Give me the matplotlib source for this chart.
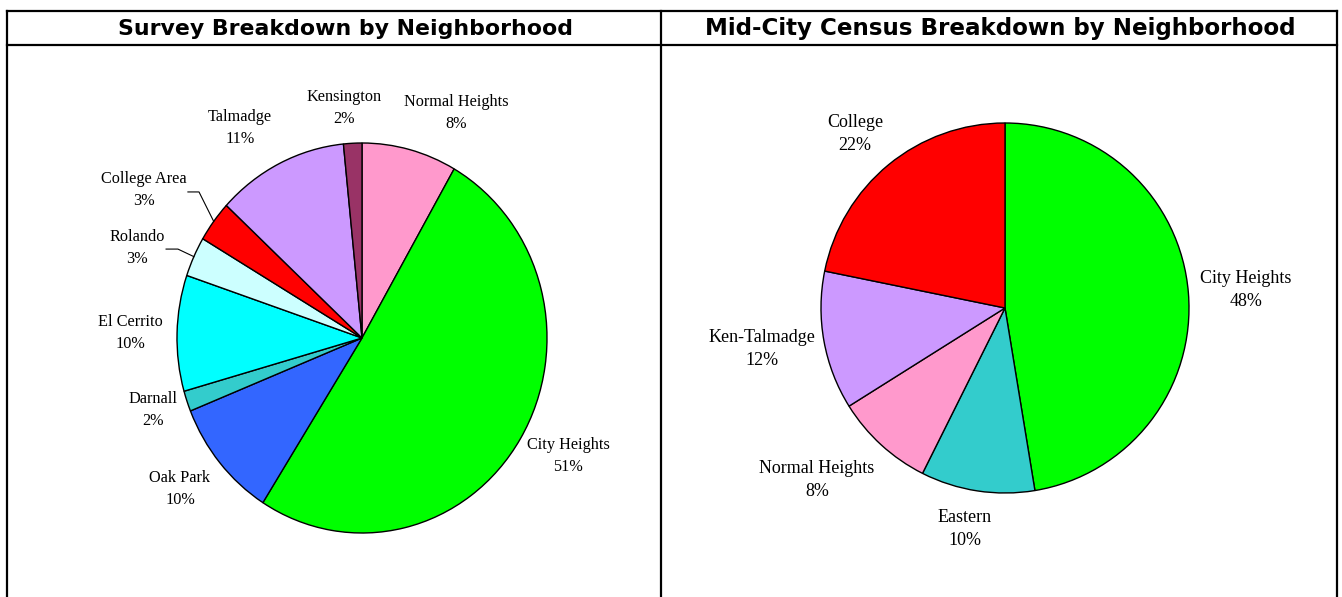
import matplotlib
matplotlib.use("Agg")
import matplotlib.pyplot as plt
from matplotlib.lines import Line2D
import numpy as np

W, H = 1342, 597

# survey pie (clockwise from 12 o'clock)
survey_names = ["Normal Heights", "City Heights", "Oak Park", "Darnall", "El Cerrito",
                "Rolando", "College Area", "Talmadge", "Kensington"]
survey_vals = [8.3, 50.7, 9.9, 1.7, 9.6, 3.3, 3.4, 11.5, 1.6]
survey_pcts = ["8%", "51%", "10%", "2%", "10%", "3%", "3%", "11%", "2%"]
survey_colors = ["#FF99CC", "#00FF00", "#3366FF", "#33CCCC", "#00FFFF",
                 "#CCFFFF", "#FF0000", "#CC99FF", "#993366"]

# census pie
census_names = ["City Heights", "Eastern", "Normal Heights", "Ken-Talmadge", "College"]
census_vals = [47.4, 10.0, 8.7, 12.1, 21.8]
census_pcts = ["48%", "10%", "8%", "12%", "22%"]
census_colors = ["#00FF00", "#33CCCC", "#FF99CC", "#CC99FF", "#FF0000"]

# label spots in pie units
survey_lab_xy = [(0.508, 1.154), (1.114, -0.605), (-0.984, -0.774), (-1.130, -0.369),
                 (-1.254, 0.026), (-1.216, 0.462), (-1.178, 0.759), (-0.659, 1.077),
                 (-0.097, 1.179)]
census_lab_xy = [(1.310, 0.097), (-0.217, -1.195), (-1.022, -0.930),
                 (-1.321, -0.222), (-0.815, 0.941)]

fig = plt.figure(figsize=(W / 100, H / 100), dpi=100)
fig.patch.set_facecolor("white")


def fx(x):
    return x / W


def fy(y):
    return 1 - y / H


def pie_axes(cx, cy, rx, ry):
    ax = fig.add_axes([fx(cx - rx), fy(cy + ry), 2 * rx / W, 2 * ry / H])
    return ax


def draw_pie(ax, vals, colors, names, pcts, lab_xy, fs):
    wedges, _ = ax.pie(vals, colors=colors, startangle=90, counterclock=False,
                       radius=1, wedgeprops=dict(edgecolor="black", linewidth=1.0))
    ax.set_xlim(-1, 1)
    ax.set_ylim(-1, 1)
    ax.set_aspect("auto")
    ax.axis("off")
    for (x, y), n, p in zip(lab_xy, names, pcts):
        ax.text(x, y, n + "\n" + p, ha="center", va="center", fontsize=fs,
                family="Liberation Serif", linespacing=1.45, clip_on=False)
    return wedges


ax1 = pie_axes(362, 338, 185, 195)
w1 = draw_pie(ax1, survey_vals, survey_colors, survey_names, survey_pcts, survey_lab_xy, 11.7)

# leader lines for the two thin slices
leaders = {5: [(-1.059, 0.456), (-0.995, 0.456)], 6: [(-0.941, 0.749), (-0.881, 0.749)]}
for i, pts in leaders.items():
    w = w1[i]
    mid = np.deg2rad((w.theta1 + w.theta2) / 2)
    xs = [p[0] for p in pts] + [np.cos(mid)]
    ys = [p[1] for p in pts] + [np.sin(mid)]
    ax1.plot(xs, ys, color="black", lw=0.8, clip_on=False)

ax2 = pie_axes(1005, 308, 184, 185)
draw_pie(ax2, census_vals, census_colors, census_names, census_pcts, census_lab_xy, 13)

# table frame
lw = 1.6
frame = [((7, 11), (1337, 11)), ((7, 45), (1337, 45)), ((7, 11), (7, 600)),
         ((661, 11), (661, 600)), ((1337, 11), (1337, 600))]
for (x0, y0), (x1, y1) in frame:
    fig.add_artist(Line2D([fx(x0), fx(x1)], [fy(y0), fy(y1)], color="black",
                          lw=lw, transform=fig.transFigure))

fig.text(fx(345), fy(29), "Survey Breakdown by Neighborhood", ha="center", va="center",
         fontsize=15.8, fontweight="bold", family="DejaVu Sans")
fig.text(fx(1000), fy(29), "Mid-City Census Breakdown by Neighborhood", ha="center",
         va="center", fontsize=16.6, fontweight="bold", family="DejaVu Sans")

fig.savefig("out.png", dpi=100)
